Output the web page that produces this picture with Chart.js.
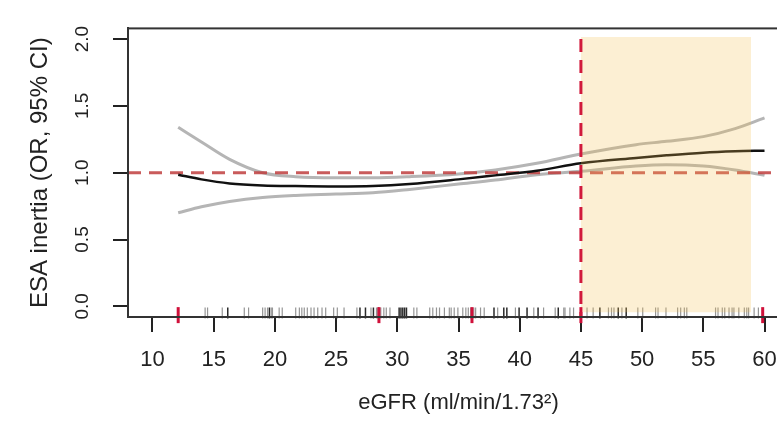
<!DOCTYPE html>
<html>
<head>
<meta charset="utf-8">
<script src="https://cdn.jsdelivr.net/npm/chart.js@4.4.1/dist/chart.umd.min.js"></script>
<style>
  html, body { margin: 0; padding: 0; background: #fff; overflow: hidden; width: 777px; height: 422px; }
  canvas { display: block; }
</style>
</head>
<body>
<canvas id="splineChart" width="800" height="422" style="width:800px;height:422px"></canvas>
<script>
'use strict';

// --- data ---
const X_TICKS = [10, 15, 20, 25, 30, 35, 40, 45, 50, 55, 60];
const Y_TICKS = [0, 0.5, 1, 1.5, 2];

const EGFR     = [12.1, 14, 16.3, 19, 21.7, 25, 28, 31, 35, 38, 41.4, 45, 49.5, 52, 55, 57.6, 60];
const OR_FIT   = [0.985, 0.95, 0.92, 0.905, 0.9, 0.897, 0.9, 0.915, 0.95, 0.98, 1.015, 1.07, 1.11, 1.13, 1.15, 1.16, 1.165];
const OR_UPPER = [1.34, 1.23, 1.1, 1.0, 0.97, 0.962, 0.962, 0.97, 0.99, 1.02, 1.07, 1.14, 1.21, 1.235, 1.27, 1.33, 1.41];
const OR_LOWER = [0.70, 0.745, 0.785, 0.815, 0.83, 0.84, 0.85, 0.875, 0.915, 0.945, 0.985, 1.01, 1.05, 1.06, 1.05, 1.02, 0.98];

const RUG_LIGHT = [14.3, 14.5, 15.7, 17.5, 17.85, 19.0, 19.2, 19.4, 19.7, 19.8, 20.35, 20.6, 21.7,
  22.0, 22.2, 22.4, 22.65, 22.95, 23.2, 23.5, 23.85, 24.15, 24.8, 25.1, 25.65, 26.7, 27.85, 28.3,
  28.65, 28.9, 29.1, 29.4, 31.35, 31.6, 32.65, 32.9, 33.2, 33.45, 33.85, 34.25, 34.4, 34.65, 34.95,
  35.35, 35.6, 35.8, 36.0, 36.25, 36.4, 36.8, 37.1, 38.2, 39.65, 41.15, 41.95, 42.9, 43.6, 43.7,
  44.1, 44.4, 45.5, 46.0, 47.25, 47.5, 47.7, 48.35, 49.65, 50.05, 51.1, 51.3, 51.95, 52.9, 53.15,
  53.45, 53.65, 56.0, 56.2, 56.55, 56.75, 57.1, 57.35, 57.5, 57.9, 58.35, 58.55, 58.7, 59.15, 59.5];
const RUG_DARK = [16.15, 19.55, 26.95, 27.4, 28.05, 28.45, 30.15, 30.3, 30.45, 30.6, 30.75,
  37.9, 38.7, 38.95, 39.95, 40.6, 41.5, 43.15, 46.55, 48.05, 48.7];
const KNOTS = [12.1, 28.5, 36.1, 45, 59.85];

const REF_OR = 1;
const CUTOFF = 45;
const SHADE_END = 58.9;

// --- helpers ---
const pts = (xs, ys) => xs.map((x, i) => ({ x, y: ys[i] }));
const rug = (xs, y) => xs.map(x => ({ x, y }));

const X_MIN = 8, X_MAX = 62, Y_MIN = -0.08, Y_MAX = 2.08;
const FONT = 'Liberation Sans, Arial, Helvetica, sans-serif';

// R-style box round the plot region
const framePlugin = {
  id: 'frame',
  afterDraw(chart) {
    const { ctx, chartArea: a } = chart;
    ctx.save();
    ctx.strokeStyle = '#333';
    ctx.lineWidth = 2;
    ctx.strokeRect(a.left, a.top, a.right - a.left, a.bottom - a.top);
    ctx.restore();
  },
};

new Chart(document.getElementById('splineChart').getContext('2d'), {
  type: 'line',
  data: {
    datasets: [
      // upper / lower CI
      { data: pts(EGFR, OR_UPPER), borderColor: '#b5b5b5', borderWidth: 3, pointRadius: 0,
        cubicInterpolationMode: 'monotone', order: 3 },
      { data: pts(EGFR, OR_LOWER), borderColor: '#b5b5b5', borderWidth: 3, pointRadius: 0,
        cubicInterpolationMode: 'monotone', order: 3 },
      // fitted OR
      { data: pts(EGFR, OR_FIT), borderColor: '#111', borderWidth: 2.5, pointRadius: 0,
        cubicInterpolationMode: 'monotone', order: 2 },
      // reference OR = 1
      { data: [{ x: X_MIN, y: REF_OR }, { x: X_MAX, y: REF_OR }], borderColor: 'rgba(192,62,62,0.85)',
        borderWidth: 3, borderDash: [13, 8], pointRadius: 0, order: 2 },
      // rug
      { data: rug(RUG_LIGHT, -0.05), showLine: false, pointStyle: 'line', rotation: 90, pointRadius: 5.5,
        pointBorderWidth: 1.2, pointBorderColor: 'rgba(130,130,130,0.85)', clip: false, order: 2 },
      { data: rug(RUG_DARK, -0.05), showLine: false, pointStyle: 'line', rotation: 90, pointRadius: 5.5,
        pointBorderWidth: 1.5, pointBorderColor: '#2a2a2a', clip: false, order: 2 },
      // eGFR >= 45 band
      { data: [{ x: CUTOFF, y: 2.015 }, { x: SHADE_END, y: 2.015 }], fill: { value: -0.045 },
        backgroundColor: 'rgba(243,191,79,0.25)', borderColor: 'transparent', borderWidth: 0,
        pointRadius: 0, order: 1 },
      // cutoff line
      { data: [{ x: CUTOFF, y: 2.0 }, { x: CUTOFF, y: Y_MIN }], borderColor: '#d11a3c', borderWidth: 3,
        borderDash: [13, 8], pointRadius: 0, order: 0 },
      // knots
      { data: rug(KNOTS, -0.066), showLine: false, pointStyle: 'line', rotation: 90, pointRadius: 8,
        pointBorderWidth: 3, pointBorderColor: '#d0103a', clip: false, order: 0 },
    ],
  },
  options: {
    responsive: false,
    animation: false,
    events: [],
    layout: { padding: { top: 15, right: 6, left: 0, bottom: 0 } },
    plugins: { legend: { display: false }, tooltip: { enabled: false } },
    scales: {
      x: {
        type: 'linear', position: 'bottom', min: X_MIN, max: X_MAX,
        afterFit: s => { s.height = 105; },
        afterBuildTicks: s => { s.ticks = X_TICKS.map(v => ({ value: v })); },
        grid: { drawOnChartArea: false, drawTicks: true, tickLength: 15, color: '#222', lineWidth: 2 },
        border: { display: true, color: '#333', width: 2 },
        ticks: { font: { family: FONT, size: 22 }, color: '#222', padding: 15, maxRotation: 0 },
        title: { display: true, text: 'eGFR (ml/min/1.73²)', font: { family: FONT, size: 22 },
          color: '#222', padding: { top: 0, bottom: 6 } },
      },
      y: {
        type: 'linear', position: 'left', min: Y_MIN, max: Y_MAX,
        afterFit: s => { s.width = 128; },
        afterBuildTicks: s => { s.ticks = Y_TICKS.map(v => ({ value: v })); },
        grid: { drawOnChartArea: false, drawTicks: true, tickLength: 15, color: '#222', lineWidth: 2 },
        border: { display: true, color: '#333', width: 2 },
        ticks: { font: { family: FONT, size: 19 }, color: '#222', padding: 17, minRotation: 90,
          maxRotation: 90, crossAlign: 'center', callback: v => v.toFixed(1) },
        title: { display: true, text: 'ESA inertia (OR, 95% CI)', font: { family: FONT, size: 24 },
          color: '#222', padding: { top: 26, bottom: 0 } },
      },
    },
  },
  plugins: [framePlugin],
});
</script>
</body>
</html>
